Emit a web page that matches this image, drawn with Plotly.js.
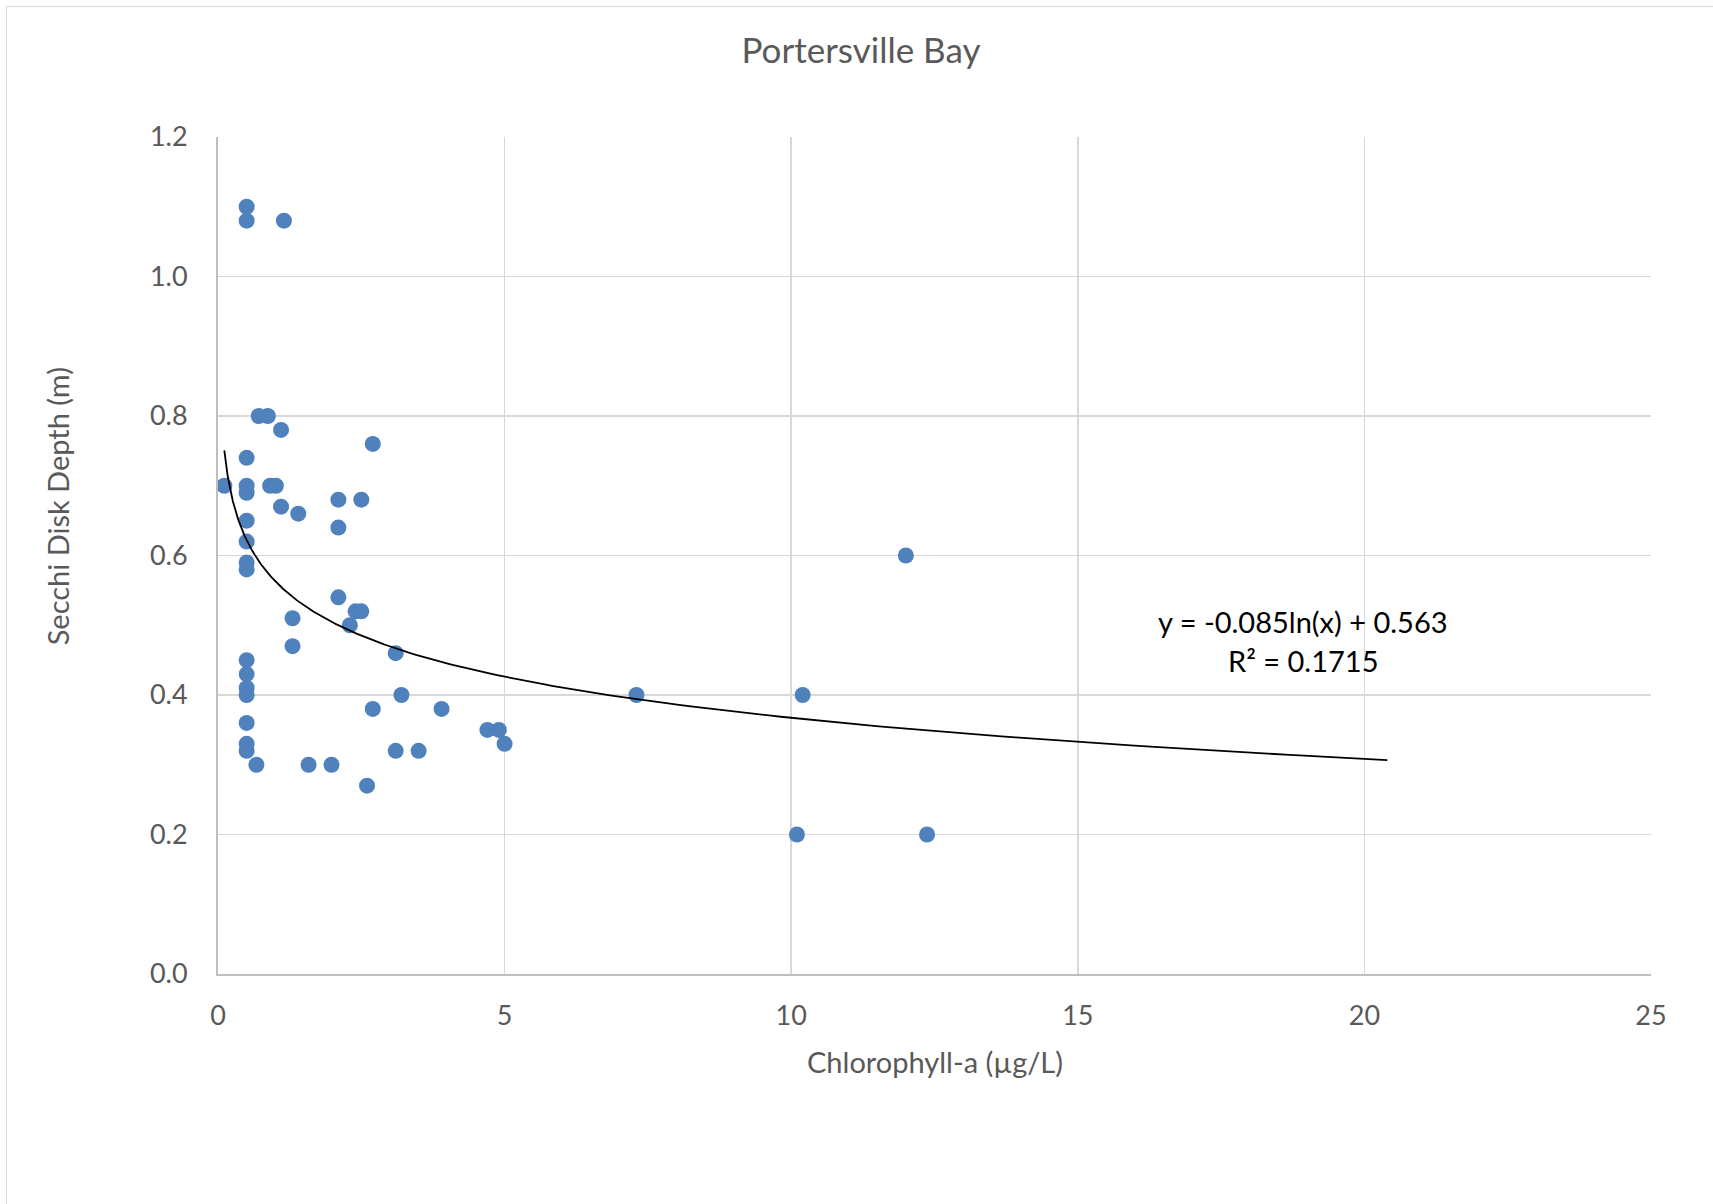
<!DOCTYPE html>
<html>
<head>
<meta charset="utf-8">
<script src="https://cdn.plot.ly/plotly-3.0.1.min.js"></script>
<style>
  html, body { margin: 0; padding: 0; background: #fff; }
  #wrap { position: relative; width: 1713px; height: 1204px; overflow: hidden; }
  #frame { position: absolute; left: 6px; top: 6px; width: 1800px; height: 1300px;
           border-top: 1px solid #D9D9D9; border-left: 1px solid #D9D9D9; pointer-events: none; }
  #chart { position: absolute; left: 0; top: 0; width: 1713px; height: 1204px; }
</style>
</head>
<body>
<div id="wrap">
  <div id="chart"></div>
  <div id="frame"></div>
</div>
<script>
// Chlorophyll-a (µg/L)
const chlorophyll = [
  0.5, 0.5, 1.15,
  0.71, 0.87, 1.1, 2.7, 0.5,
  0.11, 0.5, 0.5, 0.91, 1.01,
  1.1, 1.4, 2.1, 2.5, 0.5, 2.1, 0.5,
  0.5, 0.5, 2.1, 2.4, 2.5, 2.3, 1.3, 1.3, 3.1,
  0.5, 0.5, 0.5, 0.5, 3.2, 2.7, 3.9,
  4.7, 4.9, 5.0, 0.5, 0.5, 0.5, 3.1, 3.5,
  0.67, 1.58, 1.98, 2.6,
  7.3, 10.2, 12.0, 10.1, 12.37
];
// Secchi Disk Depth (m)
const secchi = [
  1.10, 1.08, 1.08,
  0.80, 0.80, 0.78, 0.76, 0.74,
  0.70, 0.70, 0.69, 0.70, 0.70,
  0.67, 0.66, 0.68, 0.68, 0.65, 0.64, 0.62,
  0.59, 0.58, 0.54, 0.52, 0.52, 0.50, 0.51, 0.47, 0.46,
  0.45, 0.43, 0.41, 0.40, 0.40, 0.38, 0.38,
  0.35, 0.35, 0.33, 0.36, 0.33, 0.32, 0.32, 0.32,
  0.30, 0.30, 0.30, 0.27,
  0.40, 0.40, 0.60, 0.20, 0.20
];
// Logarithmic trendline as shown on the chart: y = -0.085 ln(x) + 0.563
const trendSlope = -0.085;
const trendIntercept = 0.563;
const trendRange = [0.11, 20.4];
const equationText = "y = -0.085ln(x) + 0.563";
const r2Text = "R² = 0.1715";

const xTicks = [0, 5, 10, 15, 20, 25];
const yTicks = [0, 0.2, 0.4, 0.6, 0.8, 1.0, 1.2];

const trendX = [], trendY = [];
const nT = 300;
for (let i = 0; i <= nT; i++) {
  const lx = Math.log(trendRange[0]) + (Math.log(trendRange[1]) - Math.log(trendRange[0])) * i / nT;
  const x = Math.exp(lx);
  trendX.push(x);
  trendY.push(trendSlope * Math.log(x) + trendIntercept);
}

const font = "Lato, 'Open Sans', sans-serif";
const textCol = "#595959";

const data = [
  {
    x: chlorophyll, y: secchi, type: "scatter", mode: "markers",
    marker: { color: "#4F81BD", size: 16, line: { width: 0 } },
    showlegend: false, hoverinfo: "x+y"
  },
  {
    x: trendX, y: trendY, type: "scatter", mode: "lines",
    line: { color: "#000000", width: 1.8 },
    showlegend: false, hoverinfo: "skip"
  }
];

const layout = {
  width: 1713, height: 1204,
  paper_bgcolor: "rgba(0,0,0,0)", plot_bgcolor: "#ffffff",
  margin: { l: 218, r: 62, t: 137, b: 230 },
  font: { family: font, color: textCol },
  title: {
    text: "Portersville Bay",
    font: { family: font, size: 35, color: textCol },
    x: 861 / 1713, xref: "container", xanchor: "center",
    y: 1 - 51 / 1204, yref: "container", yanchor: "middle"
  },
  xaxis: {
    range: [0, 25], tickvals: xTicks, ticktext: xTicks.map(String),
    showgrid: true, gridcolor: "#D9D9D9", gridwidth: 1.5,
    zeroline: false, showline: true, linecolor: "#BFBFBF", linewidth: 2,
    ticks: "", ticklabelstandoff: 17,
    tickfont: { family: font, size: 27, color: textCol },
    fixedrange: true
  },
  yaxis: {
    range: [0, 1.2], tickvals: yTicks, ticktext: yTicks.map(v => v.toFixed(1)),
    showgrid: true, gridcolor: "#D9D9D9", gridwidth: 1.5,
    zeroline: false, showline: true, linecolor: "#BFBFBF", linewidth: 2,
    ticks: "", ticklabelstandoff: 23,
    tickfont: { family: font, size: 27, color: textCol },
    fixedrange: true
  },
  annotations: [
    {
      text: "Secchi Disk Depth (m)", textangle: -90,
      xref: "paper", yref: "paper",
      x: (57 - 218) / 1433, y: (973.7 - 506) / 837,
      xanchor: "center", yanchor: "middle", showarrow: false,
      font: { family: font, size: 29, color: textCol }
    },
    {
      text: "Chlorophyll-a (µg/L)",
      xref: "paper", yref: "paper",
      x: 0.5, y: (973.7 - 1061) / 837,
      xanchor: "center", yanchor: "middle", showarrow: false,
      font: { family: font, size: 29, color: textCol }
    },
    {
      text: equationText, xref: "x", yref: "y",
      x: 18.93, y: 0.506, xanchor: "center", yanchor: "middle", showarrow: false,
      font: { family: font, size: 29, color: "#000000" }
    },
    {
      text: r2Text, xref: "x", yref: "y",
      x: 18.93, y: 0.450, xanchor: "center", yanchor: "middle", showarrow: false,
      font: { family: font, size: 29, color: "#000000" }
    }
  ]
};

Plotly.newPlot("chart", data, layout, { displayModeBar: false, staticPlot: true });
</script>
</body>
</html>
